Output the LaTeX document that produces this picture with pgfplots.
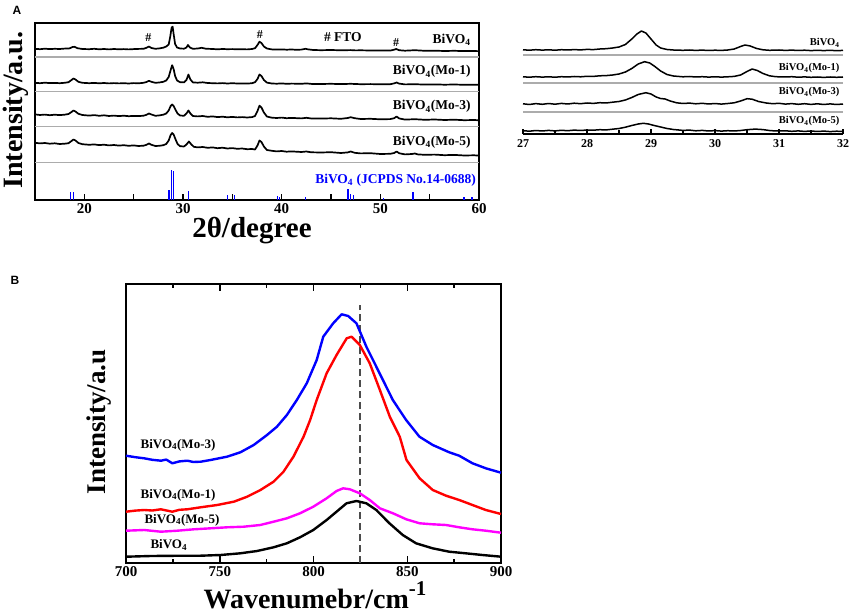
\documentclass[border=0pt]{standalone}
\usepackage{fontspec}
\setmainfont{Liberation Serif}
\newfontfamily\sansbf{Liberation Sans}
\usepackage{pgfplots}
\pgfplotsset{compat=1.18}
\newcommand{\fs}[1]{\fontsize{#1}{#1}\selectfont}
\pgfplotsset{
  every axis/.append style={scale only axis, anchor=south west, clip=false,
    /pgf/number format/assume math mode=true},
  xrd/.style={black, line width=1.7pt, line join=round},
  ram/.style={line width=2.4pt, line join=round},
}
\begin{document}
\begin{tikzpicture}
\path[use as bounding box] (0,0) rectangle (851pt,614pt);

% ---------------- Panel A main ----------------
\begin{axis}[at={(35pt,414pt)}, width=444pt, height=177pt,
  xmin=15, xmax=60, ymin=0, ymax=177,
  xtick={20,30,...,60}, minor xtick={15,25,...,55}, xtick pos=bottom, ytick=\empty,
  tick align=inside, major tick length=6pt, minor tick length=6pt,
  tick style={line width=1.5pt, black}, axis line style={line width=2pt},
  ticklabel style={font=\bfseries\fs{15}}]
\draw[gray!65, line width=1.2pt] (axis cs:15,143) -- (axis cs:60,143);
\draw[gray!65, line width=1.2pt] (axis cs:15,108.5) -- (axis cs:60,108.5);
\draw[gray!65, line width=1.2pt] (axis cs:15,73.5) -- (axis cs:60,73.5);
\draw[gray!65, line width=1.2pt] (axis cs:15,37.5) -- (axis cs:60,37.5);
% BiVO4
\addplot[xrd] coordinates {(15,151.2) (15.5,150.8) (16,151.3) (16.5,150.9) (17,151.2) (17.5,151.0) (18,151.4) (18.5,151.6) (18.8,153.0) (19.0,153.2) (19.3,151.8) (19.8,151.0) (20.5,150.8) (21,151.2) (21.5,150.7) (22,151.0) (22.5,150.6) (23,151.0) (23.5,150.7) (24,150.9) (24.5,150.6) (25,150.9) (25.5,151.1) (26,151.2) (26.3,152.2) (26.55,153.5) (26.8,152.0) (27.2,151.2) (27.6,151.6) (28.0,152.3) (28.3,153.5) (28.55,155.5) (28.7,163) (28.85,172.5) (28.95,173.3) (29.05,166) (29.2,156) (29.4,152.5) (29.7,151.5) (30.1,151.3) (30.35,152.5) (30.5,155.0) (30.7,152.5) (31.0,151.2) (31.5,151.5) (31.9,152.2) (32.3,151.3) (33,151.0) (33.5,150.7) (34,151.0) (34.5,150.8) (35,150.9) (35.5,150.7) (36,150.8) (36.5,150.6) (37,151.0) (37.3,151.8) (37.55,155) (37.75,158.3) (37.95,157) (38.2,153.5) (38.5,151.5) (39,150.6) (39.5,150.4) (40,150.6) (40.5,150.3) (41,150.5) (41.5,150.2) (42,150.4) (42.4,151.2) (42.7,150.6) (43.2,150.0) (44,149.8) (45,150.0) (46,149.7) (47,149.9) (47.5,149.6) (48,149.7) (49,149.5) (50,149.6) (51,149.4) (51.4,150.3) (51.6,151.0) (51.9,149.8) (52.5,149.3) (53.5,149.8) (54.5,149.2) (55.5,149.3) (56.5,149.0) (57.5,149.2) (58.5,148.9) (59.5,149.0) (60,148.8)};
% Mo-1
\addplot[xrd] coordinates {(15,117.2) (15.5,116.8) (16,117.3) (16.5,116.9) (17,117.1) (17.5,116.8) (18,117.2) (18.4,117.8) (18.7,120) (18.9,121.5) (19.1,120.5) (19.4,118.2) (19.8,117.2) (20.5,116.8) (21,117.1) (21.5,116.7) (22,117.0) (22.5,116.6) (23,116.9) (23.5,116.6) (24,116.8) (24.5,116.5) (25,116.9) (25.5,116.7) (26,117.2) (26.3,118) (26.55,119.2) (26.8,118.2) (27.2,117.2) (27.6,117.5) (28.0,118.2) (28.3,119.5) (28.55,123) (28.75,130) (28.9,134.8) (29.05,131) (29.2,124) (29.4,119.5) (29.7,117.8) (30.1,117.6) (30.35,120) (30.55,125.5) (30.75,120.5) (31.0,117.6) (31.5,117.3) (32,117.7) (32.5,117.0) (33,116.8) (33.5,116.6) (34,116.9) (34.5,116.5) (35,116.8) (35.5,116.5) (36,116.6) (36.5,116.4) (37,116.8) (37.3,117.8) (37.55,121) (37.75,125.5) (37.95,124) (38.2,120) (38.5,117.4) (39,116.5) (39.5,116.3) (40,116.6) (40.5,116.2) (41,116.4) (42,116.2) (42.5,116.6) (43,116.1) (44,116.0) (45,116.2) (46,115.9) (47,116.2) (48,115.8) (49,115.9) (50,115.7) (51,115.8) (51.4,116.6) (51.65,117.5) (51.9,116.4) (52.5,115.6) (53.5,115.8) (54.5,115.4) (55.5,115.6) (56.5,115.3) (57.5,115.5) (58.5,115.2) (59.5,115.3) (60,115.1)};
% Mo-3
\addplot[xrd] coordinates {(15,85.6) (15.5,85.0) (16,85.4) (16.5,84.8) (17,85.3) (17.5,84.9) (18,85.3) (18.4,86) (18.7,88) (18.9,89.5) (19.1,88.5) (19.4,86.2) (19.8,85.0) (20.5,84.4) (21,84.9) (21.5,84.2) (22,84.7) (22.5,84.0) (23,84.4) (23.5,83.9) (24,84.3) (24.5,83.8) (25,84.1) (25.5,83.9) (26,84.3) (26.3,85.2) (26.55,86.5) (26.8,85.5) (27.2,84.2) (27.6,84.6) (28.0,85.3) (28.3,86.5) (28.55,89.5) (28.75,94) (28.9,95.5) (29.05,94) (29.25,90) (29.45,86.5) (29.7,84.5) (30.1,84.2) (30.35,86.5) (30.55,89.5) (30.75,86.5) (31.0,84.0) (31.5,83.6) (32,84.0) (32.5,83.2) (33,83.6) (33.5,82.9) (34,83.3) (34.5,82.7) (35,83.1) (35.5,82.6) (36,82.9) (36.5,82.5) (37,82.9) (37.3,84) (37.55,89) (37.75,94.3) (37.95,92.5) (38.2,87.5) (38.5,83.5) (39,82.3) (39.5,82.0) (40,82.4) (40.5,81.8) (41,82.1) (42,81.6) (42.5,82.2) (43,81.5) (44,81.4) (45,81.7) (46,81.2) (46.7,82.0) (47.0,82.8) (47.4,81.8) (48,81.0) (49,81.2) (50,80.7) (51,80.9) (51.4,81.8) (51.65,83.5) (51.9,81.6) (52.5,80.4) (53.5,80.8) (54.5,80.2) (55.5,80.5) (56.5,80.0) (57.5,80.3) (58.5,79.8) (59.5,80.0) (60,79.7)};
% Mo-5
\addplot[xrd] coordinates {(15,57.2) (15.5,56.6) (16,57.0) (16.5,56.3) (17,56.7) (17.5,56.0) (18,56.3) (18.4,56.8) (18.7,59) (18.9,60.5) (19.1,59.5) (19.4,57) (19.8,55.8) (20.5,55.2) (21,55.6) (21.5,54.9) (22,55.3) (22.5,54.6) (23,55.0) (23.5,54.4) (24,54.8) (24.5,54.2) (25,54.6) (25.5,54.0) (26,54.3) (26.3,55.2) (26.55,56.5) (26.8,55.2) (27.2,54.0) (27.6,54.2) (28.0,54.8) (28.3,56) (28.55,59.5) (28.75,65) (28.9,67) (29.05,65.5) (29.25,60.5) (29.45,56) (29.7,53.8) (30.1,53.5) (30.35,55.5) (30.6,58.5) (30.85,55.5) (31.1,53.2) (31.5,52.6) (32,53.0) (32.5,52.2) (33,52.6) (33.5,51.8) (34,52.3) (34.5,51.5) (35,51.9) (35.5,51.2) (36,51.5) (36.5,50.8) (37,51.0) (37.3,50.5) (37.55,54.5) (37.75,59.5) (37.95,58) (38.2,53.5) (38.5,50.0) (39,49.2) (39.5,48.6) (40,49.0) (40.5,48.3) (41,48.6) (42,48.0) (42.5,48.5) (43,47.7) (44,47.5) (45,47.8) (46,47.0) (46.7,47.6) (47.0,48.5) (47.4,47.2) (48,46.6) (49,46.8) (50,46.0) (51,46.2) (51.4,47.0) (51.65,48.5) (51.9,46.8) (52.5,45.6) (53.2,46.0) (53.5,46.5) (53.8,45.6) (54.5,45.2) (55.5,45.4) (56.5,44.8) (57.5,45.1) (58.5,44.5) (59.5,44.7) (60,44.4)};
% JCPDS reference bars
\addplot[blue, ycomb, line width=1.5pt, mark=none] coordinates {(18.6,8) (18.9,8) (28.6,10) (28.85,30) (29.05,29) (30.55,9) (34.5,5) (35.2,5) (39.6,4) (39.8,3) (42.4,3) (46.7,11) (47.0,6) (47.3,5) (50.3,2) (53.3,8) (58.5,3) (59.3,3)};
\node[anchor=east, font=\bfseries\fs{13.5}] at (axis cs:59.5,160) {BiVO\textsubscript{4}};
\node[anchor=east, font=\bfseries\fs{13.5}] at (axis cs:59.5,128.3) {BiVO\textsubscript{4}(Mo-1)};
\node[anchor=east, font=\bfseries\fs{13.5}] at (axis cs:59.5,93.3) {BiVO\textsubscript{4}(Mo-3)};
\node[anchor=east, font=\bfseries\fs{13.5}] at (axis cs:59.5,58) {BiVO\textsubscript{4}(Mo-5)};
\node[anchor=east, font=\bfseries\fs{13.5}, text=blue, inner sep=1pt] at (axis cs:59.8,20) {BiVO\textsubscript{4} (JCPDS No.14-0688)};
\node[font=\bfseries\fs{12}] at (axis cs:26.5,162.3) {\#};
\node[font=\bfseries\fs{12}] at (axis cs:37.8,165.7) {\#};
\node[font=\bfseries\fs{13.5}] at (axis cs:46.2,163.3) {\# FTO};
\node[font=\bfseries\fs{12}] at (axis cs:51.6,157.7) {\#};
\end{axis}

% ---------------- Panel A inset ----------------
\begin{axis}[at={(523pt,480pt)}, width=320pt, height=109pt,
  xmin=27, xmax=32, ymin=0, ymax=109,
  axis x line*=bottom, axis y line=none,
  xtick={27,...,32}, minor xtick={27.5,28.5,...,31.5},
  tick align=inside, major tick length=5pt, minor tick length=3.5pt,
  tick style={line width=1.3pt, black}, axis line style={line width=1.5pt},
  ticklabel style={font=\bfseries\fs{12}}, xticklabel style={yshift=-2pt}]
\draw[gray!65, line width=1.1pt] (axis cs:27,79) -- (axis cs:32,79);
\draw[gray!65, line width=1.1pt] (axis cs:27,51) -- (axis cs:32,51);
\draw[gray!65, line width=1.1pt] (axis cs:27,22) -- (axis cs:32,22);
\addplot[xrd, line width=1.5pt] coordinates {(27,84.2) (27.1,83.8) (27.2,84.3) (27.3,83.9) (27.4,84.2) (27.5,83.8) (27.6,84.3) (27.7,84.0) (27.8,84.4) (27.9,84.1) (28.0,84.6) (28.1,84.4) (28.2,85.0) (28.3,85.3) (28.4,86.0) (28.5,87.0) (28.6,89.5) (28.7,95) (28.78,100) (28.85,103) (28.92,101) (29.0,95) (29.08,89) (29.15,86) (29.25,84.5) (29.35,84.0) (29.5,83.7) (29.6,84.0) (29.7,83.6) (29.8,83.9) (29.9,83.5) (30.0,83.8) (30.1,83.6) (30.2,84.0) (30.3,85.0) (30.4,87.5) (30.47,89) (30.55,88) (30.65,85.5) (30.75,84.2) (30.85,83.7) (31.0,84.0) (31.1,83.6) (31.2,83.9) (31.3,83.5) (31.4,83.8) (31.5,83.4) (31.6,83.7) (31.7,83.4) (31.8,83.7) (31.9,83.3) (32.0,83.6)};
\addplot[xrd, line width=1.5pt] coordinates {(27,57.2) (27.1,56.8) (27.2,57.3) (27.3,56.9) (27.4,57.2) (27.5,56.8) (27.6,57.3) (27.7,57.0) (27.8,57.5) (27.9,57.2) (28.0,57.7) (28.1,57.6) (28.2,58.2) (28.3,58.4) (28.4,59.0) (28.5,60.0) (28.6,62.0) (28.7,65.5) (28.8,70) (28.9,72.3) (28.98,71) (29.05,68) (29.15,63) (29.25,59.5) (29.35,58.0) (29.5,57.2) (29.6,57.5) (29.7,57.0) (29.8,57.3) (29.9,56.9) (30.0,57.2) (30.1,56.9) (30.2,57.2) (30.3,57.6) (30.4,59.0) (30.5,62.5) (30.58,65) (30.66,63.5) (30.75,60.5) (30.85,58.2) (30.95,57.3) (31.1,57.0) (31.2,57.3) (31.3,56.8) (31.4,57.1) (31.5,56.7) (31.6,57.0) (31.7,56.6) (31.8,57.0) (31.9,56.7) (32.0,57.0)};
\addplot[xrd, line width=1.5pt] coordinates {(27,30.2) (27.1,29.5) (27.2,30.4) (27.3,29.7) (27.4,30.5) (27.5,29.8) (27.6,30.6) (27.7,30.0) (27.8,30.8) (27.9,30.3) (28.0,31.0) (28.1,30.6) (28.2,31.3) (28.3,31.0) (28.4,31.8) (28.5,32.5) (28.6,34.0) (28.7,36.5) (28.8,39.5) (28.92,41.3) (29.0,40.0) (29.08,37.0) (29.15,35.5) (29.22,35.0) (29.3,33.0) (29.4,31.2) (29.5,30.5) (29.6,30.9) (29.7,30.2) (29.8,30.7) (29.9,30.0) (30.0,30.5) (30.1,29.9) (30.2,30.5) (30.3,31.2) (30.4,33.0) (30.5,35.3) (30.58,34.8) (30.68,32.5) (30.8,31.0) (30.9,30.3) (31.0,30.7) (31.1,29.9) (31.2,30.4) (31.3,29.7) (31.4,30.3) (31.5,29.6) (31.6,30.2) (31.7,29.5) (31.8,30.1) (31.9,29.5) (32.0,30.0)};
\addplot[xrd, line width=1.5pt] coordinates {(27,3.3) (27.1,2.8) (27.2,3.5) (27.3,3.0) (27.4,3.6) (27.5,3.1) (27.6,3.7) (27.7,3.3) (27.8,3.9) (27.9,3.5) (28.0,4.0) (28.1,3.8) (28.2,4.3) (28.3,4.1) (28.4,4.8) (28.5,5.5) (28.6,6.8) (28.7,8.5) (28.8,10.0) (28.88,10.7) (28.96,10.0) (29.05,8.5) (29.15,7.0) (29.25,5.5) (29.35,4.5) (29.5,3.6) (29.6,3.9) (29.7,3.2) (29.8,3.6) (29.9,3.0) (30.0,3.4) (30.1,2.9) (30.2,3.3) (30.3,3.0) (30.4,3.5) (30.5,4.3) (30.63,4.9) (30.75,4.4) (30.85,3.5) (30.95,3.0) (31.1,3.2) (31.2,2.7) (31.3,3.1) (31.4,2.6) (31.5,3.0) (31.6,2.5) (31.7,2.9) (31.8,2.4) (31.9,2.8) (32.0,2.5)};
\node[anchor=east, font=\bfseries\fs{10.5}] at (axis cs:32,91) {BiVO\textsubscript{4}};
\node[anchor=east, font=\bfseries\fs{10.5}] at (axis cs:32,66) {BiVO\textsubscript{4}(Mo-1)};
\node[anchor=east, font=\bfseries\fs{10.5}] at (axis cs:32,42) {BiVO\textsubscript{4}(Mo-3)};
\node[anchor=east, font=\bfseries\fs{10.5}] at (axis cs:32,13) {BiVO\textsubscript{4}(Mo-5)};
\end{axis}

% ---------------- Panel B ----------------
\begin{axis}[at={(126pt,51pt)}, width=375pt, height=279pt,
  xmin=700, xmax=900, ymin=0, ymax=279,
  xtick={700,750,...,900}, minor x tick num=1, ytick=\empty,
  tick align=inside, major tick length=7pt, minor tick length=4pt,
  tick style={line width=1.5pt, black}, axis line style={line width=2.5pt},
  ticklabel style={font=\bfseries\fs{15}}]
\draw[gray!60!black, line width=1.8pt, dash pattern=on 7pt off 4pt] (axis cs:825,0) -- (axis cs:825,258);
\addplot[ram, blue] coordinates {(700,107.3) (705,105.8) (709.7,104.7) (714,103.2) (718.6,102.3) (721.5,103.4) (724.7,99.7) (728.5,101.6) (732.7,102.3) (736,101.0) (739.8,101.3) (745.1,103) (753.9,106.3) (761,110.7) (768.1,118) (775.2,128) (780.5,136.3) (785.8,148) (791.1,163) (796.4,179.7) (801.7,203) (805.2,226.3) (810.5,239.7) (815,248.7) (818.5,247) (822.9,239.7) (828.2,216.3) (833.5,196.3) (838.8,176.3) (842.3,163) (849.4,143) (856.5,126.3) (863.6,118) (872.4,110.7) (877.7,107.3) (884.8,99.7) (891.9,94.7) (900,90.3)};
\addplot[ram, red] coordinates {(700,51.3) (705,52.4) (709.7,53) (714,52.5) (718.6,53.7) (724.7,51.3) (728.5,53.2) (732.7,53.7) (739.8,55.7) (748.6,58) (757.5,61.3) (764.6,66.3) (771.7,73) (778.7,81.3) (784,91.3) (789.3,106.3) (794.7,126.3) (798.2,143) (801.7,163) (807,189.7) (812.3,208) (817.7,224.7) (820.3,226.3) (824.7,218) (830,199.7) (835.4,173) (840.7,146.3) (846,126.3) (849.6,103) (856.6,84.7) (863.6,73) (870.7,67.3) (877.7,63) (884.8,58) (891.9,53) (900,49)};
\addplot[ram, color={rgb,1:red,1;green,0;blue,1}] coordinates {(700,32.3) (709.7,33) (718.6,31.3) (727.4,32.3) (736.2,33.7) (745.1,34.7) (753.9,35.7) (762.8,36.3) (771.6,38) (778.7,41.3) (785.8,44.7) (792.8,49.7) (799.9,56.3) (807,64.7) (812.3,72) (815.8,74.7) (819.4,73.7) (824.7,69.7) (830,63) (835.4,54.7) (842.4,49.7) (849.5,43.7) (856.6,39.7) (863.6,38.7) (870.7,38) (877.7,35.7) (884.8,33.7) (891.9,32.3) (900,30.3)};
\addplot[ram, black] coordinates {(700,6.3) (713.3,7) (731,7.3) (739.8,7.3) (750.4,8) (761,9.7) (769.9,12) (778.7,15.7) (785.8,19.7) (792.8,25.7) (799.9,33) (807,43) (812.3,51.3) (817.6,59.7) (822.9,62) (828.2,59.7) (833.5,53) (840.5,39.7) (847.6,28) (854.7,19.7) (863.5,14.7) (872.4,11.3) (881.2,9.7) (890.1,8) (900,6.3)};
\node[anchor=west, font=\bfseries\fs{13}] at (axis cs:705.9,118) {BiVO\textsubscript{4}(Mo-3)};
\node[anchor=west, font=\bfseries\fs{13}] at (axis cs:705.9,68) {BiVO\textsubscript{4}(Mo-1)};
\node[anchor=west, font=\bfseries\fs{13}] at (axis cs:708,43) {BiVO\textsubscript{4}(Mo-5)};
\node[anchor=west, font=\bfseries\fs{13}] at (axis cs:711.2,18) {BiVO\textsubscript{4}};
\end{axis}

% ---------------- outer labels ----------------
\node[font=\sansbf\bfseries\fs{12}] at (17pt,604pt) {A};
\node[font=\sansbf\bfseries\fs{12}] at (15pt,334pt) {B};
\node[rotate=90, inner sep=0pt, font=\bfseries\fs{28}] at (16pt,504pt) {Intensity/a.u.};
\node[inner sep=0pt, font=\bfseries\fs{29}] at (252pt,383pt) {2θ/degree};
\node[rotate=90, inner sep=0pt, font=\bfseries\fs{27}] at (99pt,192pt) {Intensity/a.u};
\node[inner sep=0pt, font=\bfseries\fs{28}] at (315pt,19pt) {Wavenumebr/cm\raisebox{0.45em}{\fs{21}-1}};
\end{tikzpicture}
\end{document}
